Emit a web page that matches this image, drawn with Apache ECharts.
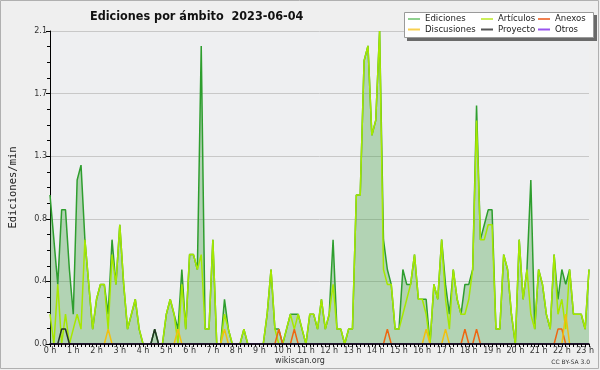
<!DOCTYPE html>
<html><head><meta charset="utf-8">
<script src="https://cdn.jsdelivr.net/npm/echarts@6/dist/echarts.min.js"></script>
<style>html,body{margin:0;padding:0;background:#efefef}#c{width:600px;height:370px}</style>
</head><body><div id="c"></div>
<script>
// ---- data (10-minute steps, edits per minute) ----
const titleText = 'Ediciones por ámbito  2023-06-04';
const hourLabels = ['0 h','1 h','2 h','3 h','4 h','5 h','6 h','7 h','8 h','9 h','10 h','11 h','12 h','13 h','14 h','15 h','16 h','17 h','18 h','19 h','20 h','21 h','22 h','23 h'];
const yTickLabels = ['0.0','0.4','0.8','1.3','1.7','2.1'];
const seriesNames = ['Ediciones','Artículos','Anexos','Discusiones','Proyecto','Otros'];

const ediciones = [
1.0,0.7,0.4,0.9,0.9,0.5,0.2,1.1,1.2,0.7,
0.4,0.1,0.3,0.4,0.4,0.2,0.7,0.4,0.8,0.4,
0.1,0.2,0.3,0.1,0,0,0,0.1,0,0,
0.2,0.3,0.2,0.1,0.5,0.1,0.6,0.6,0.5,2.0,
0.1,0.1,0.7,0,0,0.3,0.1,0,0,0,
0.1,0,0,0,0,0,0.2,0.5,0.1,0.1,
0,0.1,0.2,0.2,0.2,0.1,0,0.2,0.2,0.1,
0.3,0.1,0.2,0.7,0.1,0.1,0,0.1,0.1,1.0,
1.0,1.9,2.0,1.4,1.5,2.1,0.7,0.5,0.4,0.1,
0.1,0.5,0.4,0.4,0.6,0.3,0.3,0.3,0,0.4,
0.3,0.7,0.4,0.2,0.5,0.3,0.2,0.4,0.4,0.5,
1.6,0.7,0.8,0.9,0.9,0.1,0.1,0.6,0.5,0.2,
0,0.7,0.3,0.5,1.1,0.1,0.5,0.4,0.2,0.1,
0.6,0.3,0.5,0.4,0.5,0.2,0.2,0.2,0.1,0.5];

const articulos = [
0.2,0,0.4,0,0.2,0,0.1,0.2,0.1,0.7,
0.4,0.1,0.3,0.4,0.4,0.1,0.6,0.4,0.8,0.4,
0.1,0.2,0.3,0.1,0,0,0,0,0,0,
0.2,0.3,0.2,0,0.4,0.1,0.6,0.6,0.5,0.6,
0.1,0.1,0.7,0,0,0.2,0.1,0,0,0,
0.1,0,0,0,0,0,0.2,0.5,0.1,0,
0,0.1,0.2,0.1,0.2,0.1,0,0.2,0.2,0.1,
0.3,0.1,0.2,0.4,0.1,0.1,0,0.1,0.1,1.0,
1.0,1.9,2.0,1.4,1.5,2.1,0.5,0.4,0.4,0.1,
0.1,0.2,0.3,0.4,0.6,0.3,0.3,0.2,0,0.4,
0.3,0.7,0.3,0.1,0.5,0.3,0.2,0.2,0.3,0.5,
1.5,0.7,0.7,0.8,0.8,0.1,0.1,0.6,0.5,0.2,
0,0.7,0.3,0.5,0.2,0.1,0.5,0.4,0.2,0.1,
0.6,0.2,0.3,0.1,0.5,0.2,0.2,0.2,0.1,0.5];

const anexos = [
0,0,0,0,0,0,0,0,0,0,
0,0,0,0,0,0,0,0,0,0,
0,0,0,0,0,0,0,0,0,0,
0,0,0,0,0,0,0,0,0,0,
0,0,0,0,0,0,0,0,0,0,
0,0,0,0,0,0,0,0,0,0.1,
0,0,0,0.1,0,0,0,0,0,0,
0,0,0,0,0,0,0,0,0,0,
0,0,0,0,0,0,0,0.1,0,0,
0,0,0,0,0,0,0,0,0,0,
0,0,0,0,0,0,0,0.1,0,0,
0.1,0,0,0,0,0,0,0,0,0,
0,0,0,0,0,0,0,0,0,0,
0,0.1,0.1,0,0,0,0,0,0,0];

const discusiones = [
0,0,0,0,0,0,0,0,0,0,
0,0,0,0,0,0.1,0,0,0,0,
0,0,0,0,0,0,0,0,0,0,
0,0,0,0.1,0,0,0,0,0,0,
0,0,0,0,0,0.1,0,0,0,0,
0,0,0,0,0,0,0,0,0,0,
0,0,0,0,0,0,0,0,0,0,
0,0,0,0,0,0,0,0,0,0,
0,0,0,0,0,0,0,0,0,0,
0,0,0,0,0,0,0,0.1,0,0,
0,0,0.1,0,0,0,0,0,0,0,
0,0,0,0,0,0,0,0,0,0,
0,0,0,0,0,0,0,0,0,0,
0,0,0,0.2,0,0,0,0,0,0];

const proyecto = [
0,0,0,0.1,0.1,0,0,0,0,0,
0,0,0,0,0,0,0,0,0,0,
0,0,0,0,0,0,0,0.1,0,0,
0,0,0,0,0,0,0,0,0,0,
0,0,0,0,0,0,0,0,0,0,
0,0,0,0,0,0,0,0,0,0,
0,0,0,0,0,0,0,0,0,0,
0,0,0,0,0,0,0,0,0,0,
0,0,0,0,0,0,0,0,0,0,
0,0,0,0,0,0,0,0,0,0,
0,0,0,0,0,0,0,0,0,0,
0,0,0,0,0,0,0,0,0,0,
0,0,0,0,0,0,0,0,0,0,
0,0,0,0,0,0,0,0,0,0];

const otros = [
0,0,0,0,0,0,0,0,0,0,
0,0,0,0,0,0,0,0,0,0,
0,0,0,0,0,0,0,0,0,0,
0,0,0,0,0,0,0,0,0,0,
0,0,0,0,0,0,0,0,0,0,
0,0,0,0,0,0,0,0,0,0,
0,0,0,0,0,0,0,0,0,0,
0,0,0,0,0,0,0,0,0,0,
0,0,0,0,0,0,0,0,0,0,
0,0,0,0,0,0,0,0,0,0,
0,0,0,0,0,0,0,0,0,0,
0,0,0,0,0,0,0,0,0,0,
0,0,0,0,0,0,0,0,0,0,
0,0,0,0,0,0,0,0,0,0];

// ---- build ----
const times = ediciones.map((_, i) => {
  const h = Math.floor(i / 6), m = (i % 6) * 10;
  return h + ':' + (m < 10 ? '0' + m : m);
});
const lineColors = ['#2e9e2e','#a6e800','#ee6611','#f0c010','#223322','#8844ee'];
const legendColors = ['#8fd08f','#cbee5a','#f08050','#f8d050','#555555','#9955ee'];
const values = [ediciones, articulos, anexos, discusiones, proyecto, otros];

const chart = echarts.init(document.getElementById('c'), null, {renderer: 'canvas'});
const legendCommon = {
  orient: 'vertical', top: 14, padding: 0, itemGap: 0.5, z: 20,
  itemWidth: 12, itemHeight: 2, icon: 'rect',
  textStyle: {fontSize: 9.5, lineHeight: 10, fontFamily: 'DejaVu Sans Condensed, DejaVu Sans', color: '#222'}
};
function legItem(k) { return {name: seriesNames[k], itemStyle: {color: legendColors[k]}}; }

const series = seriesNames.map((name, k) => {
  const s = {
    name, type: 'line', data: values[k], showSymbol: false, symbol: 'none',
    lineStyle: {width: 1.5, color: lineColors[k]}, itemStyle: {color: lineColors[k]},
    z: 2 + k
  };
  if (k === 0) s.areaStyle = {color: 'rgba(60,157,60,0.48)'};
  return s;
});

chart.setOption({
  backgroundColor: '#efefef',
  animation: false,
  title: {
    text: titleText, left: 85, top: 5,
    textStyle: {fontFamily: 'DejaVu Sans Condensed, DejaVu Sans', fontWeight: 'bold', fontSize: 12.5, color: '#111'}
  },
  grid: {left: 46, right: 11, top: 31, bottom: 26, show: true, backgroundColor: '#eeeff1', borderWidth: 0},
  legend: [
    Object.assign({}, legendCommon, {left: 408, data: [legItem(0), legItem(3)]}),
    Object.assign({}, legendCommon, {left: 481, data: [legItem(1), legItem(4)]}),
    Object.assign({}, legendCommon, {left: 538, data: [legItem(2), legItem(5)]})
  ],
  xAxis: {
    type: 'category', data: times, boundaryGap: false, z: 30,
    axisLine: {lineStyle: {color: '#000', width: 1.5}},
    axisTick: {interval: 0, length: 3, lineStyle: {color: '#000'}},
    axisLabel: {
      interval: 5, margin: 3, fontSize: 8, color: '#333', fontFamily: 'DejaVu Sans',
      formatter: (v, idx) => hourLabels[Math.round(idx / 6)]
    },
    splitLine: {show: false}
  },
  yAxis: {
    type: 'value', min: 0, max: 2.1, interval: 0.42,
    name: 'Ediciones/min', nameLocation: 'middle', nameGap: 31,
    nameTextStyle: {fontFamily: 'DejaVu Sans Mono', fontSize: 10.5, color: '#222'},
    axisLine: {show: true, lineStyle: {color: '#000'}},
    axisTick: {show: true, length: 4, lineStyle: {color: '#000'}},
    minorTick: {show: true, splitNumber: 4, length: 3, lineStyle: {color: '#000'}},
    axisLabel: {
      margin: 3, fontSize: 8, color: '#333', fontFamily: 'DejaVu Sans',
      formatter: v => yTickLabels[Math.round(v / 0.42)]
    },
    splitLine: {lineStyle: {color: '#c8c8c8', width: 1}}
  },
  graphic: [
    {type: 'rect', shape: {x: 0.5, y: 0.5, width: 598, height: 368}, style: {fill: 'none', stroke: '#b0b0b0', lineWidth: 1}, z: 0},
    {type: 'rect', shape: {x: 407, y: 15, width: 190, height: 26}, style: {fill: '#6a6a6a'}, z: 1},
    {type: 'rect', shape: {x: 404.5, y: 12.5, width: 189, height: 25}, style: {fill: '#ffffff', stroke: '#9a9a9a', lineWidth: 1}, z: 2},
    {type: 'text', x: 300, y: 361, style: {text: 'wikiscan.org', fontSize: 8, fontFamily: 'DejaVu Sans', fill: '#333', align: 'center', verticalAlign: 'middle'}},
    {type: 'text', x: 590, y: 362, style: {text: 'CC BY-SA 3.0', fontSize: 6, fontFamily: 'DejaVu Sans', fill: '#333', align: 'right', verticalAlign: 'middle'}}
  ],
  series
});
</script></body></html>
